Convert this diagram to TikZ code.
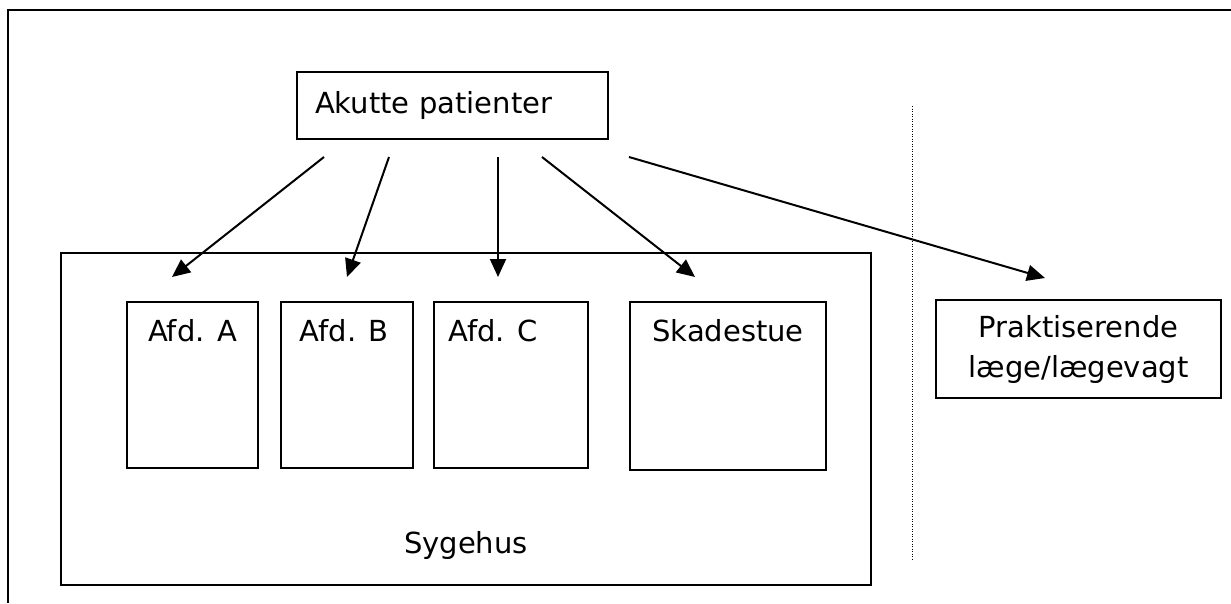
\documentclass[tikz,border=0pt]{standalone}
\usepackage{fontspec}
\setmainfont{DejaVu Sans}
\usetikzlibrary{arrows.meta}
\begin{document}
\begin{tikzpicture}[x=1pt,y=-1pt]
  \tikzstyle{box}=[rectangle,draw=black,line width=2pt,inner sep=0pt,font=\fontsize{29pt}{40pt}\selectfont]
  \tikzstyle{dept}=[box,minimum width=131pt,minimum height=166pt]
  \tikzstyle{caption}=[font=\fontsize{29pt}{40pt}\selectfont,inner sep=0pt,anchor=base]
  \tikzstyle{link}=[draw,line width=2pt,-{Triangle[length=18pt,width=16pt]}]
  \useasboundingbox (0,0) rectangle (1231,603);
  % outer frame
  \draw[line width=2pt] (8,603) -- (8,10) -- (1231,10);
  % boxes
  \node [box,minimum width=311pt,minimum height=67pt,text width=275pt,inner xsep=18pt,align=left] (akut) at (452.5,105.5) {Akutte patienter};
  \node [box,minimum width=810pt,minimum height=332pt,label={[caption,yshift=33pt]south:Sygehus}] (sygehus) at (466,419) {};
  \node [dept,label={[caption,yshift=-40pt]north:Afd. A}] (afdA) at (192.5,385) {};
  \node [dept,minimum width=132pt,label={[caption,yshift=-40pt,xshift=-3pt]north:Afd. B}] (afdB) at (347,385) {};
  \node [dept,minimum width=154pt,label={[caption,yshift=-40pt,xshift=-18pt]north:Afd. C}] (afdC) at (511,385) {};
  \node [dept,minimum width=196pt,minimum height=168pt,label={[caption,yshift=-40pt]north:Skadestue}] (skade) at (728,386) {};
  \node [box,minimum width=285pt,minimum height=98pt,align=center] (laege) at (1078.5,349) {Praktiserende\\læge/lægevagt};
  % divider
  \draw[line width=1pt,dash pattern=on 1pt off 1.5pt] (912,106) -- (912,560);
  % arrow ends
  \coordinate (a1) at (324,157); \coordinate (b1) at (172,277);
  \coordinate (a2) at (389,157); \coordinate (b2) at (347,277);
  \coordinate (a3) at (498,157); \coordinate (b3) at (498,277);
  \coordinate (a4) at (542,157); \coordinate (b4) at (695,277);
  \coordinate (a5) at (629,157); \coordinate (b5) at (1045,278);
  \draw[link] (a1) -- (b1);
  \draw[link] (a2) -- (b2);
  \draw[link] (a3) -- (b3);
  \draw[link] (a4) -- (b4);
  \draw[link] (a5) -- (b5);
\end{tikzpicture}
\end{document}
